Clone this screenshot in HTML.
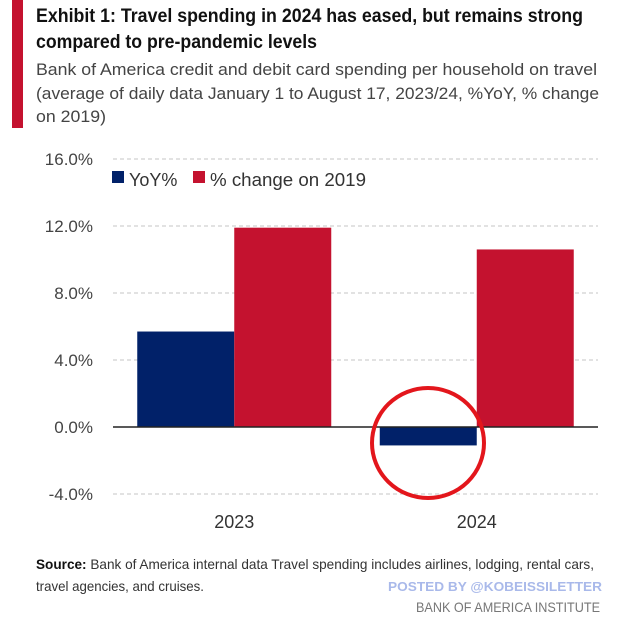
<!DOCTYPE html>
<html><head><meta charset="utf-8"><style>
html,body{margin:0;padding:0;background:#fff;}
svg{display:block;font-family:"Liberation Sans",sans-serif;}
</style></head><body>
<svg width="625" height="623" viewBox="0 0 625 623">
<rect x="12" y="0" width="11" height="128" fill="#c4122f"/>
<text x="36" y="22" font-size="19" font-weight="bold" fill="#111" textLength="547" lengthAdjust="spacingAndGlyphs">Exhibit 1: Travel spending in 2024 has eased, but remains strong</text>
<text x="36" y="48" font-size="19" font-weight="bold" fill="#111" textLength="281" lengthAdjust="spacingAndGlyphs">compared to pre-pandemic levels</text>
<text x="36" y="75" font-size="17" fill="#444" textLength="561" lengthAdjust="spacingAndGlyphs">Bank of America credit and debit card spending per household on travel</text>
<text x="36" y="99" font-size="17" fill="#444" textLength="563" lengthAdjust="spacingAndGlyphs">(average of daily data January 1 to August 17, 2023/24, %YoY, % change</text>
<text x="36" y="122" font-size="17" fill="#444" textLength="70" lengthAdjust="spacingAndGlyphs">on 2019)</text>
<g id="grid"></g>
<g id="bars"></g>
<g id="axis"></g>
<g>
<rect x="112" y="171" width="12" height="12" fill="#012169"/>
<text x="129" y="186" font-size="18" fill="#333">YoY%</text>
<rect x="193" y="171" width="12" height="12" fill="#c4122f"/>
<text x="210" y="186" font-size="18" fill="#333" textLength="156" lengthAdjust="spacingAndGlyphs">% change on 2019</text>
</g>
<ellipse cx="428" cy="443" rx="56" ry="55" fill="none" stroke="#e3161c" stroke-width="4"/>
<text x="36" y="569" font-size="14" fill="#333" textLength="558" lengthAdjust="spacingAndGlyphs"><tspan font-weight="bold" fill="#111">Source:</tspan> Bank of America internal data Travel spending includes airlines, lodging, rental cars,</text>
<text x="36" y="591" font-size="14" fill="#333" textLength="168" lengthAdjust="spacingAndGlyphs">travel agencies, and cruises.</text>
<text x="602" y="591" font-size="13" font-weight="bold" fill="#a9b9ea" text-anchor="end" textLength="214" lengthAdjust="spacingAndGlyphs">POSTED BY @KOBEISSILETTER</text>
<text x="600" y="612" font-size="14" fill="#777" text-anchor="end" textLength="184" lengthAdjust="spacingAndGlyphs">BANK OF AMERICA INSTITUTE</text>
</svg>
<script>
const categories = ["2023", "2024"];
const yoyValues = [5.7, -1.1];
const vs2019Values = [11.9, 10.6];
const yTicks = [16, 12, 8, 4, 0, -4];
const yTickLabels = ["16.0%", "12.0%", "8.0%", "4.0%", "0.0%", "-4.0%"];

const NS = "http://www.w3.org/2000/svg";
const plotL = 113, plotR = 598;
const y = v => 427 - v * (427 - 360) / 4;
const band = (plotR - plotL) / categories.length;
const xc = i => plotL + band * (i + 0.5);
const barW = band * 0.4;
function mk(tag, attrs, parent) {
  const el = document.createElementNS(NS, tag);
  for (const k in attrs) el.setAttribute(k, attrs[k]);
  parent.appendChild(el);
  return el;
}
const grid = document.getElementById('grid');
const bars = document.getElementById('bars');
const axis = document.getElementById('axis');
yTicks.forEach((t, i) => {
  if (t !== 0) {
    const l = mk('line', {x1: plotL, x2: plotR, y1: y(t), y2: y(t), stroke: '#c4c4c4', 'stroke-width': 1, 'stroke-dasharray': '4 3'}, grid);
    
    
  }
  const tx = mk('text', {x: 93, y: y(t) + 6, 'font-size': 17, fill: '#444', 'text-anchor': 'end'}, axis);
  tx.textContent = yTickLabels[i];
  
  
});
categories.forEach((c, i) => {
  const v1 = yoyValues[i], v2 = vs2019Values[i];
  const b1 = mk('rect', {x: xc(i) - barW, y: Math.min(y(v1), y(0)), width: barW, height: Math.abs(y(v1) - y(0)), fill: '#012169'}, bars);
  
  
  const b2 = mk('rect', {x: xc(i), y: Math.min(y(v2), y(0)), width: barW, height: Math.abs(y(v2) - y(0)), fill: '#c4122f'}, bars);
  
  
  const lab = mk('text', {x: xc(i), y: 528, 'font-size': 18, fill: '#333', 'text-anchor': 'middle'}, axis);
  lab.textContent = c;
  
  
});
const zl = mk('line', {x1: plotL, x2: plotR, y1: y(0), y2: y(0), stroke: '#222', 'stroke-width': 1.5}, axis);


</script>
</body></html>
